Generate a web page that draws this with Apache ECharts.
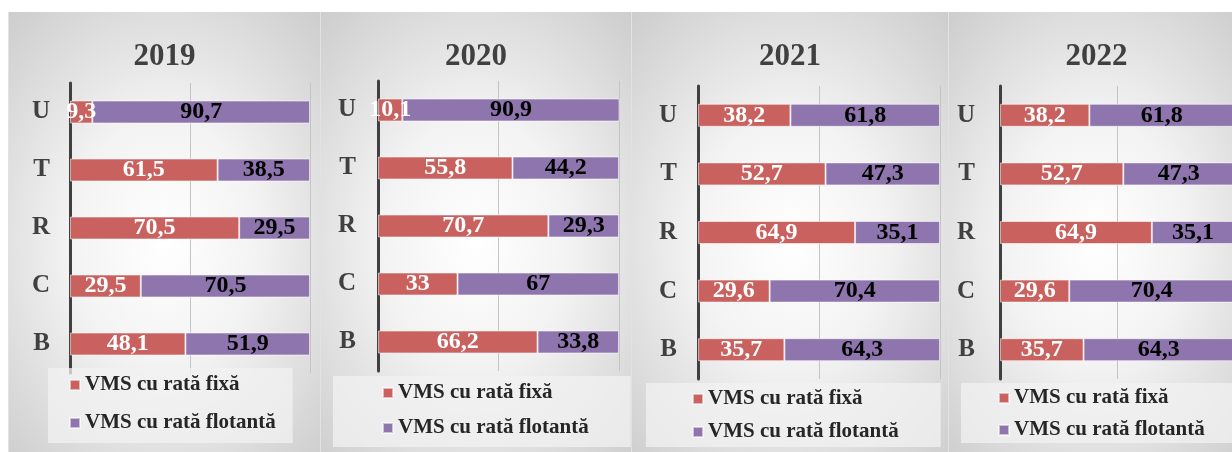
<!DOCTYPE html>
<html>
<head>
<meta charset="utf-8">
<script src="https://cdn.jsdelivr.net/npm/echarts@6/dist/echarts.min.js"></script>
<style>
  html, body { margin: 0; padding: 0; width: 1232px; height: 452px; overflow: hidden; background: #fff; }
  .panel {
    position: absolute;
    top: 12px;
    height: 440px;
    background: radial-gradient(ellipse 75% 70% at 50% 52%, #ffffff 0%, #f3f3f3 40%, #d6d6d6 85%, #cdcdcd 100%);
    border-left: 1px solid #e2e2e2;
    box-sizing: border-box;
  }
</style>
</head>
<body>
<div id="p2019" class="panel" style="left:8px;width:312px;"></div>
<div id="p2020" class="panel" style="left:320px;width:311px;"></div>
<div id="p2021" class="panel" style="left:631px;width:317px;"></div>
<div id="p2022" class="panel" style="left:948px;width:296px;"></div>
<script>
// categorii (de jos in sus, cum le asaza echarts)
const categories = ['B', 'C', 'R', 'T', 'U'];
const seriesNames = ['VMS cu rată fixă', 'VMS cu rată flotantă'];

// valori, ordinea B, C, R, T, U
const fix2019 = [48.1, 29.5, 70.5, 61.5, 9.3];
const flot2019 = [51.9, 70.5, 29.5, 38.5, 90.7];
const fix2020 = [66.2, 33, 70.7, 55.8, 10.1];
const flot2020 = [33.8, 67, 29.3, 44.2, 90.9];
const fix2021 = [35.7, 29.6, 64.9, 52.7, 38.2];
const flot2021 = [64.3, 70.4, 35.1, 47.3, 61.8];
const fix2022 = [35.7, 29.6, 64.9, 52.7, 38.2];
const flot2022 = [64.3, 70.4, 35.1, 47.3, 61.8];

const serif = '"Liberation Serif", "DejaVu Serif", serif';

// cate un panou pe an, pozitiile masurate pe imagine
const panels = [
  { id: 'p2019', year: '2019', fix: fix2019, flot: flot2019,
    grid: { left: 61, top: 71, width: 240, height: 290 }, labelMargin: 20,
    legend: { left: 39, top: 356, gap: 16, pad: [6, 17, 9, 21] } },
  { id: 'p2020', year: '2020', fix: fix2020, flot: flot2020,
    grid: { left: 57, top: 69, width: 241, height: 290 }, labelMargin: 22,
    legend: { left: 12, top: 364, gap: 13, pad: [6, 42, 8, 49] } },
  { id: 'p2021', year: '2021', fix: fix2021, flot: flot2021,
    grid: { left: 66, top: 74, width: 242, height: 293 }, labelMargin: 21,
    legend: { left: 14, top: 371, gap: 11, pad: [5, 42, 4, 46] } },
  { id: 'p2022', year: '2022', fix: fix2022, flot: flot2022,
    grid: { left: 51, top: 74, width: 234, height: 293 }, labelMargin: 25,
    legend: { left: 12, top: 371, gap: 10, pad: [4, 60, 2, 37] } }
];

const comma = (p) => String(p.value).replace('.', ',');

panels.forEach((p) => {
  const chart = echarts.init(document.getElementById(p.id), null, { renderer: 'canvas' });
  chart.setOption({
    backgroundColor: 'transparent',
    animation: false,
    color: ['#C9625F', '#8E75AE'],
    title: {
      text: p.year,
      left: 'center',
      top: 24,
      textStyle: { fontFamily: serif, fontSize: 31, fontWeight: 'bold', color: '#404040' }
    },
    legend: {
      orient: 'vertical',
      left: p.legend.left,
      top: p.legend.top,
      padding: p.legend.pad,
      itemGap: p.legend.gap,
      itemWidth: 10,
      itemHeight: 10,
      icon: 'rect',
      backgroundColor: 'rgba(242,242,242,0.75)',
      borderRadius: 0,
      textStyle: { fontFamily: serif, fontSize: 21, fontWeight: 'bold', color: '#262626', lineHeight: 22 },
      data: seriesNames
    },
    grid: p.grid,
    xAxis: {
      type: 'value',
      min: 0,
      max: 100,
      interval: 50,
      axisLabel: { show: false },
      axisTick: { show: false },
      axisLine: { show: false },
      splitLine: { lineStyle: { color: '#c4c4c4', width: 1 } }
    },
    yAxis: {
      type: 'category',
      data: categories,
      axisTick: { show: false },
      axisLine: { lineStyle: { color: '#404040', width: 3 } },
      axisLabel: {
        margin: p.labelMargin,
        fontFamily: serif,
        fontSize: 25,
        fontWeight: 'bold',
        color: '#404040'
      }
    },
    series: [
      {
        name: seriesNames[0],
        type: 'bar',
        stack: 'total',
        barWidth: 23,
        data: p.fix,
        itemStyle: { borderColor: 'rgba(255,255,255,0.55)', borderWidth: 1 },
        label: {
          show: true,
          position: 'inside',
          formatter: comma,
          fontFamily: serif,
          fontSize: 24,
          fontWeight: 'bold',
          color: '#ffffff'
        }
      },
      {
        name: seriesNames[1],
        type: 'bar',
        stack: 'total',
        barWidth: 23,
        data: p.flot,
        itemStyle: { borderColor: 'rgba(255,255,255,0.55)', borderWidth: 1 },
        label: {
          show: true,
          position: 'inside',
          formatter: comma,
          fontFamily: serif,
          fontSize: 24,
          fontWeight: 'bold',
          color: '#000000'
        }
      }
    ]
  });
});
</script>
</body>
</html>
